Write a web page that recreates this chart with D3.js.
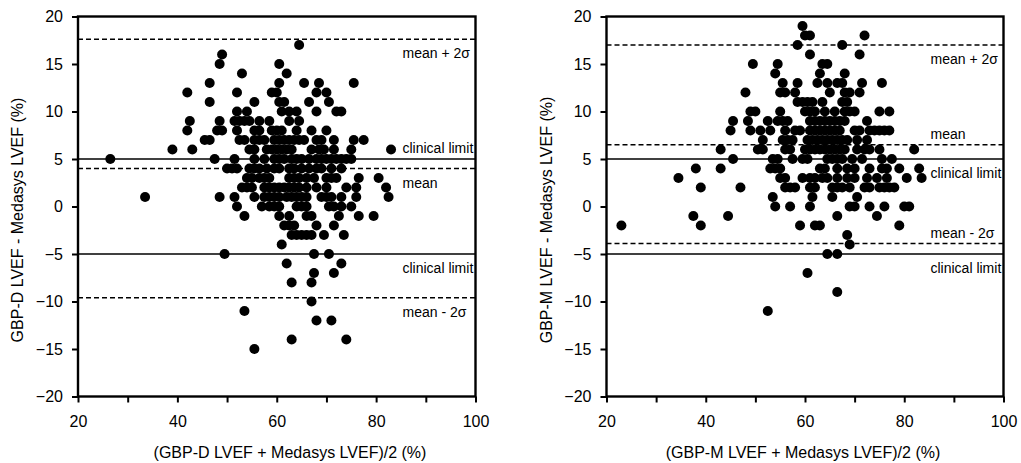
<!DOCTYPE html>
<html>
<head>
<meta charset="utf-8">
<script src="https://cdn.jsdelivr.net/npm/d3@7"></script>
<style>
  body { margin: 0; background: #fff; }
  svg { display: block; }
  text { font-family: "Liberation Sans", Arial, sans-serif; fill: #000; }
</style>
</head>
<body>
<svg id="chart" width="1021" height="463"></svg>
<script>
// Bland-Altman plots, GBP-D / GBP-M vs Medasys LVEF

var xTicks = [20, 30, 40, 50, 60, 70, 80, 90, 100];
var yTicks = [-20, -15, -10, -5, 0, 5, 10, 15, 20];

// left panel : GBP-D, difference rows and the means found on each row
var diffsD = [17, 16, 15, 14, 13, 12, 11, 10, 9, 8, 7, 6, 5, 4, 3, 2, 1, 0,
              -1, -2, -3, -4, -5, -6, -7, -8, -10, -11, -12, -14, -15];
var meansD = [
  [64.5],
  [49],
  [48.5, 60.5],
  [53, 62],
  [46.5, 60.5, 65.5, 68.5, 75.5],
  [42, 52, 59, 60, 68, 70],
  [46.5, 55.5, 60.5, 61.5, 66.5, 70.5],
  [52, 54, 61, 62.5, 64, 68, 72, 73],
  [42.5, 48.5, 51.5, 52.5, 53.5, 54.5, 56.5, 58.5, 62.5, 64.5],
  [42, 48, 49, 52, 55.5, 56.5, 59, 60, 61, 64, 67, 70],
  [45.5, 46.5, 52.5, 53.5, 55.5, 56.5, 57.5, 59.5, 60.5, 61.5, 62.5, 63.5, 64.5, 65.5, 68, 69, 71.5, 75.5, 77.5],
  [39, 43, 54.5, 55.5, 58, 59, 60, 61, 62, 63, 67, 68.5, 69.5, 71.5, 75, 83],
  [26.5, 47.5, 51.5, 55.5, 57.5, 59.5, 60.5, 61.5, 63, 64, 65, 66.5, 68, 69, 70, 71, 72, 73, 74, 75],
  [50, 51, 52, 54.5, 55.5, 56.5, 58, 59.5, 60.5, 62.5, 63.5, 65, 66.5, 68, 69, 71, 73],
  [54, 55, 56.5, 57.5, 58.5, 62.5, 63.5, 64.5, 66, 67.5, 70, 71, 72, 76.5, 80.5],
  [53, 54, 55, 57.5, 58.5, 59.5, 60.5, 61.5, 62.5, 63.5, 64.5, 66, 68, 70, 74, 76, 82],
  [33.5, 48.5, 51.5, 55.5, 57.5, 58.5, 59.5, 60.5, 62, 63, 64, 65, 66, 69, 70, 71, 73, 76, 82.5],
  [52, 57, 58.5, 59.5, 60.5, 64, 65, 66, 70.5, 71.5, 73, 75],
  [53.5, 60.5, 62.5, 66, 67, 72.5, 76.5, 79.5],
  [61.5, 62.5, 63.5, 68, 71.5],
  [63, 64, 65, 66, 67, 69.5, 73.5],
  [61],
  [49.5, 67.5, 70.5],
  [62, 73],
  [67.5, 71.5],
  [63, 67],
  [67],
  [53.5],
  [68, 71],
  [63, 74],
  [55.5]
];

// right panel : GBP-M
var diffsM = [19, 18, 17, 16, 15, 14, 13, 12, 11, 10, 9, 8, 7, 6, 5, 4, 3, 2, 1, 0,
              -1, -2, -3, -4, -5, -7, -9, -11];
var meansM = [
  [59.5],
  [60, 61, 72],
  [58.5, 67.5],
  [61, 71],
  [49.5, 54.5, 63.5, 64.5],
  [54, 63, 68],
  [55.5, 58.5, 62.5, 64.5, 66.5, 67.5, 71.5, 75.5],
  [48, 55, 56, 58, 65, 68, 69, 71],
  [58.5, 59.5, 60.5, 61.5, 63.5, 67.5, 68.5],
  [49, 50, 55, 60, 61, 62, 64, 66, 68, 69, 70, 75, 77],
  [45.5, 48.5, 52.5, 54.5, 55.5, 56.5, 61, 62, 63, 64, 65, 66, 67, 68, 72.5],
  [45, 49, 51, 53, 56, 58, 59, 61, 62, 63, 64, 65, 66, 67, 70, 71, 73, 74, 75, 76, 77],
  [51.5, 55.5, 56.5, 57.5, 60.5, 61.5, 62.5, 63.5, 64.5, 65.5, 66.5, 67.5, 68.5, 70.5, 72.5],
  [43, 50.5, 51.5, 56, 57, 60, 61, 62, 63, 64, 65, 66, 67, 68, 70.5, 72, 73, 75, 82],
  [45.5, 53.5, 54.5, 57.5, 59.5, 60.5, 64.5, 65.5, 66.5, 67.5, 69.5, 71.5, 75.5, 77.5],
  [38, 43, 53, 54, 55, 63, 64, 66.5, 68.5, 70, 73, 75.5, 76.5, 79, 83],
  [34.5, 55, 56, 59.5, 61, 62, 63.5, 64.5, 66.5, 68.5, 70, 72.5, 74.5, 76.5, 80.5, 83.5],
  [39, 47, 56, 57, 58, 61, 62, 65.5, 66.5, 67.5, 69, 72, 73, 75, 76, 77, 78],
  [53.5, 61.5, 65.5, 70.5],
  [54, 57, 61, 69, 70, 73, 76, 80, 81],
  [37.5, 44.5, 66.5, 74.5],
  [23, 39, 59, 62, 63, 79],
  [68.5],
  [69],
  [64.5, 66.5],
  [60.5],
  [66.5],
  [52.5]
];

// reference lines: value, label, dashed?, label under the line?
var refD = [
  {v: 17.6, label: "mean + 2\u03c3", dash: true, below: true},
  {v: 5, label: "clinical limit", dash: false, below: false},
  {v: 4.0, label: "mean", dash: true, below: true},
  {v: -5, label: "clinical limit", dash: false, below: true},
  {v: -9.6, label: "mean - 2\u03c3", dash: true, below: true}
];
var refM = [
  {v: 17, label: "mean + 2\u03c3", dash: true, below: true},
  {v: 6.5, label: "mean", dash: true, below: false},
  {v: 5, label: "clinical limit", dash: false, below: true},
  {v: -3.9, label: "mean - 2\u03c3", dash: true, below: false},
  {v: -5, label: "clinical limit", dash: false, below: true}
];

function toPoints(diffs, means) {
  var pts = [];
  diffs.forEach(function(d, i) {
    means[i].forEach(function(m) { pts.push({x: m, y: d}); });
  });
  return pts;
}

var svg = d3.select("#chart");

function drawPanel(opt) {
  var x = d3.scaleLinear().domain([20, 100]).range([opt.left, opt.right]);
  var y = d3.scaleLinear().domain([-20, 20]).range([396.5, 16.5]);
  var g = svg.append("g");

  // reference lines
  opt.refs.forEach(function(r) {
    g.append("line")
      .attr("x1", x(20)).attr("x2", x(100))
      .attr("y1", y(r.v)).attr("y2", y(r.v))
      .attr("stroke", "#000")
      .attr("stroke-width", 1.6)
      .attr("stroke-dasharray", r.dash ? "5,3" : null);
    g.append("text")
      .attr("x", x(100) - 73)
      .attr("y", y(r.v) + (r.below ? 19 : -6))
      .style("font-size", "14px")
      .text(r.label);
  });

  // dots
  g.selectAll("circle.pt")
    .data(opt.points)
    .enter().append("circle")
    .attr("class", "pt")
    .attr("cx", function(d) { return x(d.x); })
    .attr("cy", function(d) { return y(d.y); })
    .attr("r", 5)
    .attr("fill", "#000");

  // axes
  var ax = g.append("g")
    .attr("transform", "translate(0,396.5)")
    .call(d3.axisBottom(x).tickValues(xTicks).tickSize(6).tickPadding(13)
      .tickFormat(function(d) { return d % 20 === 0 ? d : ""; }));
  var ay = g.append("g")
    .attr("transform", "translate(" + opt.left + ",0)")
    .call(d3.axisLeft(y).tickValues(yTicks).tickSize(6).tickPadding(9));
  [ax, ay].forEach(function(a) {
    a.select(".domain").remove();
    a.selectAll("line").attr("stroke-width", 2);
    a.selectAll("text").style("font-size", "16px")
      .style("font-family", "'Liberation Sans', Arial, sans-serif");
  });

  g.append("rect")
    .attr("x", x(20)).attr("y", y(20))
    .attr("width", x(100) - x(20)).attr("height", y(-20) - y(20))
    .attr("fill", "none").attr("stroke", "#000").attr("stroke-width", 2.4);

  g.append("text")
    .attr("x", opt.xTitleX).attr("y", 458)
    .attr("text-anchor", "middle")
    .style("font-size", "16px")
    .text(opt.xTitle);
  g.append("text")
    .attr("transform", "translate(" + (opt.left - 55) + ",220) rotate(-90)")
    .attr("text-anchor", "middle")
    .style("font-size", "16px")
    .text(opt.yTitle);
}

drawPanel({
  left: 78, right: 475.5,
  points: toPoints(diffsD, meansD),
  refs: refD,
  xTitle: "(GBP-D LVEF + Medasys LVEF)/2 (%)", xTitleX: 290,
  yTitle: "GBP-D LVEF - Medasys LVEF (%)"
});
drawPanel({
  left: 606.5, right: 1003.5,
  points: toPoints(diffsM, meansM),
  refs: refM,
  xTitle: "(GBP-M LVEF + Medasys LVEF)/2 (%)", xTitleX: 803,
  yTitle: "GBP-M LVEF - Medasys LVEF (%)"
});
</script>
</body>
</html>
